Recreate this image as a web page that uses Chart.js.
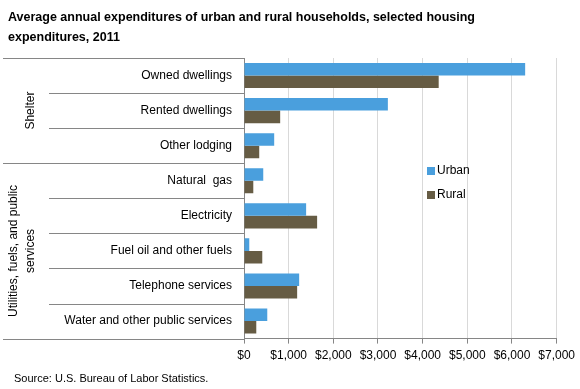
<!DOCTYPE html>
<html>
<head>
<meta charset="utf-8">
<script src="https://cdn.jsdelivr.net/npm/chart.js@4"></script>
<style>
  body { margin: 0; background: #fff; }
  #wrap { width: 580px; height: 389px; position: relative; }
</style>
</head>
<body>
<div id="wrap"><canvas id="chart"></canvas></div>
<script>
// Datos
const categorias = ['Owned dwellings', 'Rented dwellings', 'Other lodging', 'Natural  gas',
    'Electricity', 'Fuel oil and other fuels', 'Telephone services', 'Water and other public services'];
const urbano = [6295, 3221, 676, 431, 1391, 118, 1235, 521];
const rural = [4359, 810, 341, 208, 1637, 409, 1190, 275];
const grupos = [
    { label: ['Shelter'], desde: 0, hasta: 2 },
    { label: ['Utilities, fuels, and public', 'services'], desde: 3, hasta: 7 }
];
const titulo = ['Average annual expenditures of urban and rural households, selected housing',
    'expenditures, 2011'];
const fuente = 'Source: U.S. Bureau of Labor Statistics.';

const FONT = "'Liberation Sans', Arial, sans-serif";
const GRIS = '#868686';

// Plugin para titulo, fuente, grupos y leyenda
const extras = {
    id: 'extras',
    afterDraw(chart) {
        const ctx = chart.ctx;
        const y = chart.scales.y;
        const area = chart.chartArea;
        ctx.save();

        // Titulo
        ctx.fillStyle = '#000';
        ctx.font = 'bold 12.5px ' + FONT;
        ctx.textBaseline = 'alphabetic';
        ctx.textAlign = 'left';
        titulo.forEach((t, i) => ctx.fillText(t, 8, 21 + i * 20));

        // Fuente
        ctx.font = '11px ' + FONT;
        ctx.fillText(fuente, 14, 382);

        // Separadores de categorias
        const borde = i => {
            if (i === 0) return area.top;
            if (i === categorias.length) return area.bottom;
            return (y.getPixelForTick(i - 1) + y.getPixelForTick(i)) / 2;
        };
        const cortes = [0];
        grupos.forEach(g => cortes.push(g.hasta + 1));
        ctx.strokeStyle = GRIS;
        ctx.lineWidth = 1;
        for (let i = 0; i <= categorias.length; i++) {
            const py = Math.round(borde(i)) + 0.5;
            const x0 = cortes.includes(i) ? 3 : 49;
            ctx.beginPath();
            ctx.moveTo(x0, py);
            ctx.lineTo(area.left, py);
            ctx.stroke();
        }

        // Etiquetas de grupo
        ctx.font = '12px ' + FONT;
        ctx.textAlign = 'center';
        ctx.textBaseline = 'middle';
        grupos.forEach(g => {
            const cy = (borde(g.desde) + borde(g.hasta + 1)) / 2;
            const n = g.label.length;
            g.label.forEach((l, i) => {
                const cx = 31 - (n - 1 - i) * 17;
                ctx.save();
                ctx.translate(cx, cy);
                ctx.rotate(-Math.PI / 2);
                ctx.fillText(l, 0, 0);
                ctx.restore();
            });
        });

        // Leyenda
        ctx.textAlign = 'left';
        chart.data.datasets.forEach((ds, i) => {
            const ly = 171 + i * 24;
            ctx.fillStyle = ds.backgroundColor;
            ctx.fillRect(427, ly - 4, 8, 8);
            ctx.fillStyle = '#000';
            ctx.fillText(ds.label, 437, ly);
        });
        ctx.restore();
    }
};

new Chart(document.getElementById('chart'), {
    type: 'bar',
    data: {
        labels: categorias,
        datasets: [
            { label: 'Urban', data: urbano, backgroundColor: '#4A9FDD' },
            { label: 'Rural', data: rural, backgroundColor: '#665C44' }
        ]
    },
    options: {
        indexAxis: 'y',
        responsive: true,
        maintainAspectRatio: false,
        animation: false,
        layout: { padding: { top: 58, bottom: 21, left: 0, right: 0 } },
        datasets: { bar: { barPercentage: 1, categoryPercentage: 0.715 } },
        plugins: {
            legend: { display: false },
            title: { display: false },
            tooltip: { enabled: false }
        },
        scales: {
            x: {
                min: 0,
                max: 7000,
                ticks: {
                    stepSize: 1000,
                    padding: 5,
                    color: '#000',
                    font: { family: FONT, size: 12 },
                    maxRotation: 0,
                    callback: v => '$' + v.toLocaleString('en-US')
                },
                grid: { color: '#d9d9d9', tickColor: GRIS, tickLength: 5 },
                border: { color: GRIS }
            },
            y: {
                ticks: {
                    padding: 12,
                    color: '#000',
                    font: { family: FONT, size: 12 }
                },
                grid: { display: false, drawTicks: false },
                border: { color: GRIS },
                afterFit: scale => { scale.width = 244; }
            }
        }
    },
    plugins: [extras]
});
</script>
</body>
</html>
